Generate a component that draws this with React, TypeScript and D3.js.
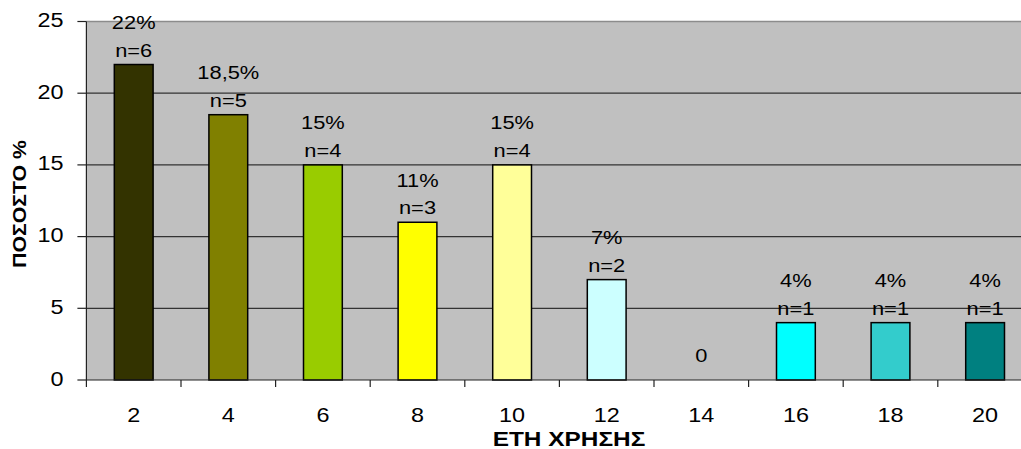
import React from "react";
import * as d3 from "d3";

// Years of use (x categories) and share of respondents per category
const years = ["2", "4", "6", "8", "10", "12", "14", "16", "18", "20"];
const percents = [22, 18.5, 15, 11, 15, 7, 0, 4, 4, 4];
const counts = [6, 5, 4, 3, 4, 2, 0, 1, 1, 1];
const percentLabels = ["22%", "18,5%", "15%", "11%", "15%", "7%", "0", "4%", "4%", "4%"];
const barColors = [
  "#333300", "#808000", "#99cc00", "#ffff00", "#ffff99",
  "#ccffff", "#c0c0c0", "#00ffff", "#33cccc", "#008080",
];
const yTicks = [0, 5, 10, 15, 20, 25];

const W = 1021;
const H = 449;
const plotLeft = 86.4;
const plotRight = 1032.4;
const plotTop = 21.5;
const plotBottom = 380;
const font = "'Liberation Sans', Arial, sans-serif";

type LabelProps = {
  x: number;
  y: number;
  size: number;
  sx: number;
  anchor?: "start" | "middle" | "end";
  bold?: boolean;
  rotate?: number;
  children: React.ReactNode;
};

// Text with a slight horizontal widening, like the wide chart typeface
function Label({ x, y, size, sx, anchor = "middle", bold = false, rotate = 0, children }: LabelProps) {
  return (
    <text
      transform={`translate(${x},${y}) rotate(${rotate}) scale(${sx},1)`}
      textAnchor={anchor}
      style={{ fontSize: `${size}px`, fontWeight: bold ? 700 : 400 }}
      fill="#000"
    >
      {children}
    </text>
  );
}

export default function App() {
  const x = d3.scaleBand<string>().domain(years).range([plotLeft, plotRight]).padding(0);
  const y = d3.scaleLinear().domain([0, 25]).range([plotBottom, plotTop]);
  const bw = x.bandwidth() * 0.41;
  const boundaries = years.map((_, i) => plotLeft + i * x.bandwidth());
  const center = (c: string) => x(c)! + x.bandwidth() / 2;

  return (
    <svg
      width={W}
      height={H}
      style={{ position: "absolute", left: 0, top: 0, background: "#fff" }}
      fontFamily={font}
    >
      {/* plot background */}
      <rect x={plotLeft} y={plotTop} width={plotRight - plotLeft} height={plotBottom - plotTop} fill="#c0c0c0" />
      <line x1={plotLeft} x2={plotRight} y1={plotTop} y2={plotTop} stroke="#8c8c8c" strokeWidth={1.5} />

      {/* horizontal gridlines */}
      {yTicks.filter((t) => t > 0 && t < 25).map((t) => (
        <line key={t} x1={plotLeft} x2={plotRight} y1={y(t)} y2={y(t)} stroke="#333" strokeWidth={1.2} />
      ))}

      {/* bars */}
      {percents.map((v, i) => {
        if (v <= 0) return null;
        const cx = center(years[i]);
        return (
          <rect
            key={i}
            x={cx - bw / 2}
            y={y(v)}
            width={bw}
            height={y(0) - y(v)}
            fill={barColors[i]}
            stroke="#000"
            strokeWidth={1.5}
          />
        );
      })}

      {/* value labels */}
      {percents.map((v, i) => {
        const cx = center(years[i]);
        if (counts[i] === 0) {
          return (
            <Label key={i} x={cx} y={y(0) - 18} size={19} sx={1.15}>
              {percentLabels[i]}
            </Label>
          );
        }
        const nBase = y(v) - 8;
        return (
          <g key={i}>
            <Label x={cx} y={nBase - 27.5} size={19} sx={1.15}>
              {percentLabels[i]}
            </Label>
            <Label x={cx} y={nBase} size={19} sx={1.15}>
              {`n=${counts[i]}`}
            </Label>
          </g>
        );
      })}

      {/* axes */}
      <line x1={plotLeft} x2={plotLeft} y1={plotTop} y2={plotBottom} stroke="#222" strokeWidth={1.2} />
      <line x1={plotLeft} x2={plotRight} y1={plotBottom} y2={plotBottom} stroke="#222" strokeWidth={1.2} />

      {yTicks.map((t) => (
        <g key={t}>
          <line x1={plotLeft - 9} x2={plotLeft} y1={y(t)} y2={y(t)} stroke="#222" strokeWidth={1.2} />
          <Label x={63.5} y={y(t) + 5.5} size={19.5} sx={1.2} anchor="end">
            {t}
          </Label>
        </g>
      ))}

      {boundaries.map((bx, i) => (
        <line key={i} x1={bx} x2={bx} y1={plotBottom} y2={plotBottom + 7} stroke="#222" strokeWidth={1.2} />
      ))}

      {years.map((yr) => (
        <Label key={yr} x={center(yr)} y={421.5} size={19.5} sx={1.2}>
          {yr}
        </Label>
      ))}

      {/* axis titles */}
      <Label x={569} y={446} size={20} sx={1.22} bold>
        ΕΤΗ ΧΡΗΣΗΣ
      </Label>
      <Label x={26} y={204} size={19} sx={1.12} bold rotate={-90}>
        ΠΟΣΟΣΤΟ %
      </Label>
    </svg>
  );
}
